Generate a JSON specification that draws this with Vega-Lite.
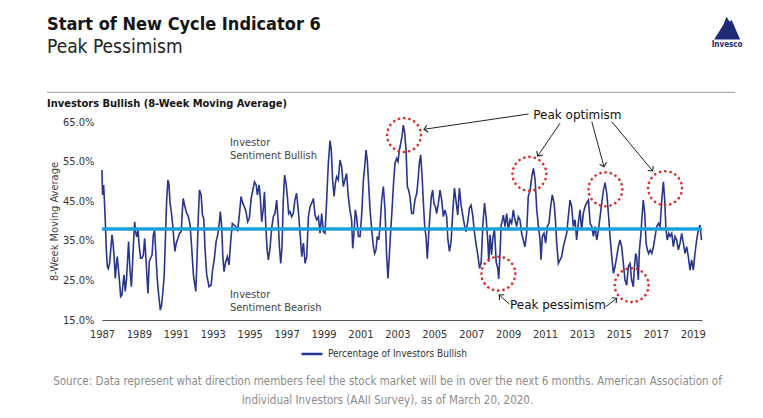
{
"$schema": "https://vega.github.io/schema/vega-lite/v6.json",
"width": 600, "height": 198,
"autosize": {"type": "none"},
"padding": {"left": 102, "top": 122, "right": 61, "bottom": 98},
"background": "white",
"config": {"view": {"stroke": null}, "font": "Liberation Sans Narrow, DejaVu Sans Condensed, Liberation Sans, sans-serif"},
"title": {"text": "Start of New Cycle Indicator 6", "subtitle": "Peak Pessimism", "anchor": "start", "frame": "group", "dx": -55, "dy": 40, "offset": 0, "fontSize": 18, "fontWeight": "bold", "color": "#141414", "subtitleFontSize": 19, "subtitleFontWeight": "normal", "subtitleColor": "#222222", "subtitlePadding": 4},
"data": {"values": [
{"year":1987.70,"bullish":52.9},{"year":1987.71,"bullish":49.9},{"year":1987.73,"bullish":46.6},{"year":1987.79,"bullish":49.1},{"year":1987.82,"bullish":46.2},{"year":1987.88,"bullish":39.8},{"year":1987.93,"bullish":33.1},{"year":1987.99,"bullish":28.5},{"year":1988.04,"bullish":28.0},{"year":1988.11,"bullish":29.3},{"year":1988.18,"bullish":33.1},{"year":1988.24,"bullish":36.5},{"year":1988.29,"bullish":34.8},{"year":1988.35,"bullish":31.4},{"year":1988.42,"bullish":25.5},{"year":1988.49,"bullish":29.7},{"year":1988.53,"bullish":31.0},{"year":1988.60,"bullish":27.2},{"year":1988.65,"bullish":24.7},{"year":1988.71,"bullish":20.9},{"year":1988.78,"bullish":21.3},{"year":1988.83,"bullish":23.8},{"year":1988.89,"bullish":26.4},{"year":1988.96,"bullish":22.2},{"year":1989.03,"bullish":25.5},{"year":1989.14,"bullish":34.8},{"year":1989.21,"bullish":28.0},{"year":1989.29,"bullish":23.4},{"year":1989.36,"bullish":29.7},{"year":1989.41,"bullish":34.8},{"year":1989.47,"bullish":39.8},{"year":1989.52,"bullish":37.3},{"year":1989.58,"bullish":36.0},{"year":1989.65,"bullish":37.7},{"year":1989.72,"bullish":33.5},{"year":1989.79,"bullish":30.6},{"year":1989.86,"bullish":30.6},{"year":1989.94,"bullish":31.4},{"year":1990.01,"bullish":35.6},{"year":1990.08,"bullish":30.6},{"year":1990.13,"bullish":26.4},{"year":1990.19,"bullish":21.7},{"year":1990.26,"bullish":29.7},{"year":1990.33,"bullish":30.6},{"year":1990.41,"bullish":31.4},{"year":1990.48,"bullish":36.5},{"year":1990.55,"bullish":37.7},{"year":1990.62,"bullish":31.4},{"year":1990.69,"bullish":25.5},{"year":1990.77,"bullish":21.3},{"year":1990.86,"bullish":17.5},{"year":1990.93,"bullish":18.8},{"year":1991.00,"bullish":22.2},{"year":1991.07,"bullish":26.4},{"year":1991.13,"bullish":34.8},{"year":1991.20,"bullish":44.9},{"year":1991.27,"bullish":50.4},{"year":1991.33,"bullish":49.1},{"year":1991.38,"bullish":44.9},{"year":1991.45,"bullish":42.4},{"year":1991.53,"bullish":39.0},{"year":1991.60,"bullish":34.8},{"year":1991.65,"bullish":32.3},{"year":1991.72,"bullish":34.4},{"year":1991.81,"bullish":35.6},{"year":1991.90,"bullish":36.9},{"year":1991.99,"bullish":37.3},{"year":1992.05,"bullish":42.4},{"year":1992.10,"bullish":45.7},{"year":1992.17,"bullish":44.0},
{"year":1992.29,"bullish":41.9},{"year":1992.38,"bullish":41.1},{"year":1992.47,"bullish":39.0},{"year":1992.56,"bullish":33.1},{"year":1992.65,"bullish":26.4},{"year":1992.78,"bullish":22.2},{"year":1992.85,"bullish":30.6},{"year":1992.92,"bullish":41.5},{"year":1992.98,"bullish":47.8},{"year":1993.07,"bullish":46.6},{"year":1993.14,"bullish":41.5},{"year":1993.21,"bullish":40.7},{"year":1993.28,"bullish":33.1},{"year":1993.37,"bullish":26.4},{"year":1993.50,"bullish":23.4},{"year":1993.61,"bullish":23.8},{"year":1993.68,"bullish":27.2},{"year":1993.79,"bullish":30.6},{"year":1993.88,"bullish":34.8},{"year":1993.97,"bullish":36.5},{"year":1994.06,"bullish":39.8},{"year":1994.11,"bullish":42.4},{"year":1994.19,"bullish":38.2},{"year":1994.24,"bullish":31.4},{"year":1994.31,"bullish":27.2},{"year":1994.40,"bullish":29.7},{"year":1994.49,"bullish":31.0},{"year":1994.58,"bullish":28.9},{"year":1994.67,"bullish":34.8},{"year":1994.76,"bullish":39.4},{"year":1994.85,"bullish":39.0},{"year":1994.94,"bullish":38.6},{"year":1995.05,"bullish":37.7},{"year":1995.14,"bullish":41.5},{"year":1995.23,"bullish":46.2},{"year":1995.32,"bullish":44.5},{"year":1995.41,"bullish":43.6},{"year":1995.50,"bullish":42.4},{"year":1995.59,"bullish":39.8},{"year":1995.68,"bullish":40.7},{"year":1995.78,"bullish":45.7},{"year":1995.87,"bullish":47.8},{"year":1995.96,"bullish":49.9},{"year":1996.05,"bullish":49.1},{"year":1996.12,"bullish":46.6},{"year":1996.21,"bullish":49.1},{"year":1996.28,"bullish":45.7},{"year":1996.35,"bullish":39.8},{"year":1996.44,"bullish":43.2},{"year":1996.50,"bullish":47.4},{"year":1996.57,"bullish":39.0},{"year":1996.64,"bullish":33.1},{"year":1996.71,"bullish":30.2},{"year":1996.80,"bullish":33.1},{"year":1996.89,"bullish":38.1},
{"year":1996.98,"bullish":41.1},{"year":1997.07,"bullish":41.9},{"year":1997.16,"bullish":45.3},{"year":1997.25,"bullish":39.4},{"year":1997.31,"bullish":33.5},{"year":1997.38,"bullish":29.3},{"year":1997.45,"bullish":33.5},{"year":1997.52,"bullish":45.3},{"year":1997.59,"bullish":51.6},{"year":1997.67,"bullish":49.5},{"year":1997.74,"bullish":46.2},{"year":1997.81,"bullish":41.9},{"year":1997.88,"bullish":42.4},{"year":1997.97,"bullish":41.1},{"year":1998.06,"bullish":41.9},{"year":1998.15,"bullish":45.3},{"year":1998.24,"bullish":47.0},{"year":1998.33,"bullish":42.8},{"year":1998.43,"bullish":36.9},{"year":1998.52,"bullish":31.0},{"year":1998.61,"bullish":34.4},{"year":1998.70,"bullish":29.3},{"year":1998.79,"bullish":31.0},{"year":1998.88,"bullish":41.1},{"year":1998.97,"bullish":43.6},{"year":1999.06,"bullish":44.5},{"year":1999.15,"bullish":45.7},{"year":1999.24,"bullish":41.5},{"year":1999.33,"bullish":40.3},{"year":1999.42,"bullish":41.1},{"year":1999.51,"bullish":36.9},{"year":1999.60,"bullish":41.9},{"year":1999.69,"bullish":37.3},{"year":1999.78,"bullish":36.9},{"year":1999.87,"bullish":45.3},{"year":1999.96,"bullish":54.6},{"year":2000.05,"bullish":60.3},{"year":2000.12,"bullish":57.9},{"year":2000.19,"bullish":50.4},{"year":2000.27,"bullish":46.2},{"year":2000.34,"bullish":49.5},{"year":2000.41,"bullish":51.2},{"year":2000.50,"bullish":50.4},{"year":2000.59,"bullish":55.4},{"year":2000.68,"bullish":53.7},{"year":2000.77,"bullish":48.7},{"year":2000.86,"bullish":50.4},{"year":2000.95,"bullish":52.0},{"year":2001.04,"bullish":46.2},{"year":2001.13,"bullish":42.8},{"year":2001.22,"bullish":40.3},{"year":2001.28,"bullish":33.1},{"year":2001.35,"bullish":36.9},{"year":2001.42,"bullish":42.8},{"year":2001.49,"bullish":41.1},{"year":2001.59,"bullish":36.1},{"year":2001.68,"bullish":36.1},{"year":2001.77,"bullish":41.9},{"year":2001.86,"bullish":50.4},{"year":2001.93,"bullish":53.7},{"year":2002.00,"bullish":57.9},{"year":2002.07,"bullish":55.4},{"year":2002.14,"bullish":49.5},{"year":2002.22,"bullish":42.8},{"year":2002.31,"bullish":37.7},{"year":2002.40,"bullish":33.5},{"year":2002.47,"bullish":31.8},{"year":2002.54,"bullish":32.7},{"year":2002.61,"bullish":36.1},{"year":2002.69,"bullish":35.2},{"year":2002.76,"bullish":38.6},{"year":2002.85,"bullish":45.3},{"year":2002.94,"bullish":48.7},{"year":2003.03,"bullish":42.8},{"year":2003.12,"bullish":31.0},{"year":2003.19,"bullish":25.5},{"year":2003.26,"bullish":31.0},{"year":2003.34,"bullish":37.7},{"year":2003.41,"bullish":42.8},{"year":2003.48,"bullish":48.7},{"year":2003.57,"bullish":54.6},{"year":2003.66,"bullish":55.8},{"year":2003.73,"bullish":55.0},{"year":2003.81,"bullish":57.9},{"year":2003.88,"bullish":59.6},{"year":2003.95,"bullish":61.3},{"year":2004.02,"bullish":64.2},{"year":2004.10,"bullish":62.1},{"year":2004.17,"bullish":57.9},{"year":2004.24,"bullish":48.7},{"year":2004.31,"bullish":47.8},{"year":2004.38,"bullish":46.2},{"year":2004.47,"bullish":41.9},{"year":2004.56,"bullish":41.9},{"year":2004.65,"bullish":45.3},{"year":2004.75,"bullish":47.0},{"year":2004.82,"bullish":50.4},{"year":2004.89,"bullish":54.6},{"year":2004.96,"bullish":56.7},{"year":2005.03,"bullish":52.0},{"year":2005.11,"bullish":44.5},{"year":2005.18,"bullish":38.6},{"year":2005.25,"bullish":36.1},{"year":2005.32,"bullish":30.5},{"year":2005.40,"bullish":36.9},{"year":2005.47,"bullish":41.9},{"year":2005.54,"bullish":46.2},{"year":2005.61,"bullish":47.8},{"year":2005.68,"bullish":44.5},{"year":2005.76,"bullish":43.6},{"year":2005.83,"bullish":41.9},{"year":2005.92,"bullish":44.5},{"year":2006.01,"bullish":47.8},{"year":2006.10,"bullish":45.3},{"year":2006.19,"bullish":41.1},{"year":2006.28,"bullish":42.8},{"year":2006.37,"bullish":41.1},
{"year":2006.43,"bullish":35.6},{"year":2006.52,"bullish":32.3},{"year":2006.61,"bullish":34.8},{"year":2006.70,"bullish":42.4},{"year":2006.79,"bullish":48.3},{"year":2006.88,"bullish":44.9},{"year":2006.97,"bullish":41.5},{"year":2007.06,"bullish":48.3},{"year":2007.15,"bullish":44.0},{"year":2007.24,"bullish":41.5},{"year":2007.33,"bullish":39.0},{"year":2007.42,"bullish":37.3},{"year":2007.51,"bullish":39.8},{"year":2007.60,"bullish":43.2},{"year":2007.69,"bullish":44.0},{"year":2007.78,"bullish":41.5},{"year":2007.87,"bullish":37.3},{"year":2007.97,"bullish":33.9},{"year":2008.06,"bullish":31.4},{"year":2008.15,"bullish":28.0},{"year":2008.24,"bullish":29.7},{"year":2008.33,"bullish":39.0},{"year":2008.42,"bullish":44.5},{"year":2008.51,"bullish":40.7},{"year":2008.60,"bullish":34.8},{"year":2008.65,"bullish":29.7},{"year":2008.72,"bullish":36.5},{"year":2008.80,"bullish":31.4},{"year":2008.87,"bullish":35.6},{"year":2008.96,"bullish":38.0},{"year":2009.05,"bullish":29.7},{"year":2009.14,"bullish":28.0},{"year":2009.19,"bullish":25.4},{"year":2009.27,"bullish":33.0},{"year":2009.32,"bullish":39.0},
{"year":2009.35,"bullish":39.4},{"year":2009.44,"bullish":41.5},{"year":2009.53,"bullish":38.6},{"year":2009.62,"bullish":41.9},{"year":2009.71,"bullish":37.7},{"year":2009.80,"bullish":40.3},{"year":2009.89,"bullish":39.4},{"year":2009.98,"bullish":42.8},{"year":2010.07,"bullish":40.3},{"year":2010.16,"bullish":38.6},{"year":2010.25,"bullish":41.1},{"year":2010.34,"bullish":40.3},{"year":2010.43,"bullish":36.9},{"year":2010.52,"bullish":35.2},{"year":2010.61,"bullish":33.5},{"year":2010.70,"bullish":36.9},{"year":2010.79,"bullish":46.2},{"year":2010.89,"bullish":47.8},{"year":2010.98,"bullish":51.2},{"year":2011.07,"bullish":53.3},{"year":2011.16,"bullish":50.4},{"year":2011.25,"bullish":42.8},{"year":2011.34,"bullish":38.6},{"year":2011.43,"bullish":35.2},{"year":2011.48,"bullish":30.2},{"year":2011.55,"bullish":36.1},{"year":2011.64,"bullish":36.9},{"year":2011.73,"bullish":34.4},{"year":2011.82,"bullish":38.6},{"year":2011.91,"bullish":39.4},{"year":2012.00,"bullish":43.6},{"year":2012.09,"bullish":46.6},{"year":2012.19,"bullish":44.5},{"year":2012.26,"bullish":40.3},{"year":2012.33,"bullish":34.4},{"year":2012.42,"bullish":29.3},{"year":2012.51,"bullish":30.2},{"year":2012.60,"bullish":31.0},{"year":2012.69,"bullish":33.5},{"year":2012.78,"bullish":35.2},{"year":2012.87,"bullish":36.9},{"year":2012.96,"bullish":41.1},{"year":2013.05,"bullish":45.3},{"year":2013.14,"bullish":43.6},{"year":2013.23,"bullish":38.6},{"year":2013.32,"bullish":40.3},{"year":2013.41,"bullish":35.2},{"year":2013.50,"bullish":39.4},{"year":2013.59,"bullish":42.8},{"year":2013.68,"bullish":37.7},{"year":2013.77,"bullish":41.9},{"year":2013.86,"bullish":43.6},{"year":2013.95,"bullish":44.5},{"year":2014.05,"bullish":45.3},{"year":2014.14,"bullish":39.4},{"year":2014.23,"bullish":38.6},{"year":2014.32,"bullish":36.1},{"year":2014.41,"bullish":38.6},{"year":2014.50,"bullish":35.2},{"year":2014.59,"bullish":37.7},{"year":2014.68,"bullish":41.1},{"year":2014.77,"bullish":44.5},{"year":2014.86,"bullish":47.8},{"year":2014.95,"bullish":49.7},{"year":2015.04,"bullish":47.0},{"year":2015.13,"bullish":41.9},{"year":2015.22,"bullish":36.1},{"year":2015.31,"bullish":31.0},{"year":2015.40,"bullish":26.8},{"year":2015.49,"bullish":28.5},{"year":2015.58,"bullish":31.0},{"year":2015.67,"bullish":33.5},{"year":2015.76,"bullish":35.2},{"year":2015.85,"bullish":33.5},{"year":2015.94,"bullish":29.3},{"year":2016.03,"bullish":25.1},{"year":2016.12,"bullish":23.8},{"year":2016.21,"bullish":28.5},{"year":2016.30,"bullish":29.3},{"year":2016.39,"bullish":25.1},{"year":2016.48,"bullish":23.4},{"year":2016.54,"bullish":28.5},{"year":2016.61,"bullish":31.8},{"year":2016.66,"bullish":31.0},{"year":2016.75,"bullish":25.1},{"year":2016.81,"bullish":32.7},{"year":2016.88,"bullish":36.1},{"year":2016.95,"bullish":41.1},{"year":2017.02,"bullish":45.3},{"year":2017.10,"bullish":41.9},{"year":2017.17,"bullish":34.4},{"year":2017.24,"bullish":32.7},{"year":2017.31,"bullish":31.8},{"year":2017.39,"bullish":32.7},{"year":2017.48,"bullish":31.8},{"year":2017.57,"bullish":33.5},{"year":2017.66,"bullish":36.1},{"year":2017.75,"bullish":38.6},{"year":2017.84,"bullish":39.4},{"year":2017.93,"bullish":38.6},{"year":2018.02,"bullish":45.3},{"year":2018.11,"bullish":49.9},{"year":2018.18,"bullish":45.3},{"year":2018.25,"bullish":37.7},{"year":2018.32,"bullish":35.2},{"year":2018.40,"bullish":36.9},{"year":2018.47,"bullish":36.1},{"year":2018.56,"bullish":36.9},{"year":2018.65,"bullish":33.5},{"year":2018.74,"bullish":36.1},{"year":2018.83,"bullish":35.2},{"year":2018.92,"bullish":32.7},{"year":2019.01,"bullish":34.4},{"year":2019.10,"bullish":36.9},{"year":2019.19,"bullish":34.4},{"year":2019.28,"bullish":31.8},{"year":2019.37,"bullish":33.5},{"year":2019.46,"bullish":31.0},{"year":2019.55,"bullish":27.6},{"year":2019.64,"bullish":30.2},{"year":2019.73,"bullish":27.6},{"year":2019.82,"bullish":31.8},{"year":2019.91,"bullish":35.2},{"year":2020.00,"bullish":37.7},{"year":2020.09,"bullish":39.0},{"year":2020.17,"bullish":35.2}
]},
"layer": [
{
"mark": {"type": "line", "strokeWidth": 1.6},
"encoding": {
"x": {"field": "year", "type": "quantitative", "scale": {"domain": [1987.7, 2020.2], "nice": false, "zero": false},
"axis": {"values": [1987.7,1989.7,1991.7,1993.7,1995.7,1997.7,1999.7,2001.7,2003.7,2005.7,2007.7,2009.7,2011.7,2013.7,2015.7,2017.7,2019.7], "tickCount": 40, "labelExpr": "'' + floor(datum.value)", "labelOverlap": false, "labelFlush": false, "ticks": false, "grid": false, "domainColor": "#555555", "domainWidth": 1.2, "labelFontSize": 11, "labelColor": "#333333", "labelPadding": 8,
"title": ["Source: Data represent what direction members feel the stock market will be in over the next 6 months. American Association of", "Individual Investors (AAII Survey), as of March 20, 2020."], "titleFontSize": 11.5, "titleFontWeight": "normal", "titleColor": "#8c8c8c", "titleX": 285, "titleY": 55, "titleAlign": "center", "titleBaseline": "top", "titleLineHeight": 19}},
"y": {"field": "bullish", "type": "quantitative", "scale": {"domain": [15, 65], "nice": false, "zero": false},
"axis": {"values": [15,25,35,45,55,65], "tickCount": 20, "labelExpr": "format(datum.value, '.1f') + '%'", "labelOverlap": false, "labelFlush": false, "domain": false, "ticks": false, "grid": false, "labelFontSize": 11, "labelColor": "#333333", "labelPadding": 8, "title": "8-Week Moving Average", "titleFontSize": 11, "titleFontWeight": "normal", "titleColor": "#444444", "titlePadding": 3}},
"color": {"datum": "Percentage of Investors Bullish", "type": "nominal", "scale": {"range": ["#27358f"]},
"legend": {"orient": "none", "legendX": 198, "legendY": 220, "title": null, "symbolType": "stroke", "symbolStrokeWidth": 2.5, "symbolSize": 441, "labelFontSize": 10, "labelColor": "#333333"}}
}
},
{
"data": {"values": [{"average": 38.0}]},
"mark": {"type": "rule", "color": "#1ca0dc", "strokeWidth": 3.5},
"encoding": {"y": {"field": "average", "type": "quantitative"}}
},
{
"data": {"values": [{}]},
"mark": {"type": "rule", "color": "#9a9a9a", "strokeWidth": 1},
"encoding": {"x": {"datum": 1984.72, "type": "quantitative"}, "x2": {"datum": 2021.99}, "y": {"datum": 72.5, "type": "quantitative"}}
},
{
"data": {"values": [{}]},
"mark": {"type": "text", "text": "Investors Bullish (8-Week Moving Average)", "fontSize": 11, "fontWeight": "bold", "color": "#141414", "align": "left", "baseline": "alphabetic"},
"encoding": {"x": {"datum": 1984.72, "type": "quantitative"}, "y": {"datum": 68.79, "type": "quantitative"}}
},
{
"data": {"values": [{"year":2004.06,"bullish":61.7},{"year":2010.85,"bullish":51.9},{"year":2014.97,"bullish":48.0},{"year":2018.20,"bullish":48.3},{"year":2009.17,"bullish":26.7},{"year":2016.39,"bullish":23.8}]},
"mark": {"type": "point", "shape": "circle", "filled": false, "size": 1150, "stroke": "#e52521", "strokeWidth": 2.6, "strokeDash": [0.1, 5.2], "strokeCap": "round", "opacity": 1},
"encoding": {"x": {"field": "year", "type": "quantitative"}, "y": {"field": "bullish", "type": "quantitative"}}
},
{
"data": {"values": [
{"year":2010.80,"bullish":67.02,"year2":2005.14,"bullish2":63.16},
{"year":2012.51,"bullish":64.67,"year2":2011.30,"bullish2":56.41},
{"year":2014.23,"bullish":65.08,"year2":2014.89,"bullish2":53.71},
{"year":2015.31,"bullish":65.08,"year2":2017.53,"bullish2":52.63},
{"year":2009.76,"bullish":19.04,"year2":2009.22,"bullish2":21.31},
{"year":2014.99,"bullish":18.36,"year2":2015.58,"bullish2":20.48}]},
"mark": {"type": "rule", "color": "#222222", "strokeWidth": 1},
"encoding": {"x": {"field": "year", "type": "quantitative"}, "y": {"field": "bullish", "type": "quantitative"}, "x2": {"field": "year2"}, "y2": {"field": "bullish2"}}
},
{"data": {"values": [{"year":2005.14,"bullish":63.16}]}, "mark": {"type": "point", "shape": "M-1,1L0,0L1,1", "angle": 261.9, "size": 50, "filled": false, "stroke": "#222222", "strokeWidth": 1.1, "opacity": 1}, "encoding": {"x": {"field": "year", "type": "quantitative"}, "y": {"field": "bullish", "type": "quantitative"}}},
{"data": {"values": [{"year":2011.30,"bullish":56.41}]}, "mark": {"type": "point", "shape": "M-1,1L0,0L1,1", "angle": 214.3, "size": 50, "filled": false, "stroke": "#222222", "strokeWidth": 1.1, "opacity": 1}, "encoding": {"x": {"field": "year", "type": "quantitative"}, "y": {"field": "bullish", "type": "quantitative"}}},
{"data": {"values": [{"year":2014.89,"bullish":53.71}]}, "mark": {"type": "point", "shape": "M-1,1L0,0L1,1", "angle": 164.7, "size": 50, "filled": false, "stroke": "#222222", "strokeWidth": 1.1, "opacity": 1}, "encoding": {"x": {"field": "year", "type": "quantitative"}, "y": {"field": "bullish", "type": "quantitative"}}},
{"data": {"values": [{"year":2017.53,"bullish":52.63}]}, "mark": {"type": "point", "shape": "M-1,1L0,0L1,1", "angle": 140.2, "size": 50, "filled": false, "stroke": "#222222", "strokeWidth": 1.1, "opacity": 1}, "encoding": {"x": {"field": "year", "type": "quantitative"}, "y": {"field": "bullish", "type": "quantitative"}}},
{"data": {"values": [{"year":2009.22,"bullish":21.31}]}, "mark": {"type": "point", "shape": "M-1,1L0,0L1,1", "angle": 312, "size": 50, "filled": false, "stroke": "#222222", "strokeWidth": 1.1, "opacity": 1}, "encoding": {"x": {"field": "year", "type": "quantitative"}, "y": {"field": "bullish", "type": "quantitative"}}},
{"data": {"values": [{"year":2015.58,"bullish":20.48}]}, "mark": {"type": "point", "shape": "M-1,1L0,0L1,1", "angle": 51.9, "size": 50, "filled": false, "stroke": "#222222", "strokeWidth": 1.1, "opacity": 1}, "encoding": {"x": {"field": "year", "type": "quantitative"}, "y": {"field": "bullish", "type": "quantitative"}}},
{
"data": {"values": [{"label": "Peak optimism", "year": 2013.45, "bullish": 66.77}, {"label": "Peak pessimism", "year": 2012.40, "bullish": 18.79}]},
"mark": {"type": "text", "font": "DejaVu Sans", "fontSize": 12, "color": "#111111", "align": "center", "baseline": "middle"},
"encoding": {"x": {"field": "year", "type": "quantitative"}, "y": {"field": "bullish", "type": "quantitative"}, "text": {"field": "label"}}
},
{
"data": {"values": [{"label": "Investor\nSentiment Bullish", "year": 1994.63, "bullish": 61.2}, {"label": "Investor\nSentiment Bearish", "year": 1994.63, "bullish": 22.8}]},
"mark": {"type": "text", "fontSize": 11, "color": "#444444", "align": "left", "baseline": "top", "lineBreak": "\n", "lineHeight": 12.5},
"encoding": {"x": {"field": "year", "type": "quantitative"}, "y": {"field": "bullish", "type": "quantitative"}, "text": {"field": "label"}}
},
{
"data": {"values": [{}]},
"mark": {"type": "point", "shape": "M-1,0.8L-0.3,-0.3L-0.05,-0.95L0.2,-0.55L0.35,-0.7L1,0.8Z", "filled": true, "size": 676, "color": "#1f2a78", "opacity": 1},
"encoding": {"x": {"datum": 2021.56, "type": "quantitative"}, "y": {"datum": 88.48, "type": "quantitative"}}
},
{
"data": {"values": [{}]},
"mark": {"type": "text", "text": "Invesco", "fontSize": 8, "fontWeight": "bold", "color": "#1f2a78", "align": "center", "baseline": "middle"},
"encoding": {"x": {"datum": 2021.56, "type": "quantitative"}, "y": {"datum": 84.44, "type": "quantitative"}}
}
]
}
